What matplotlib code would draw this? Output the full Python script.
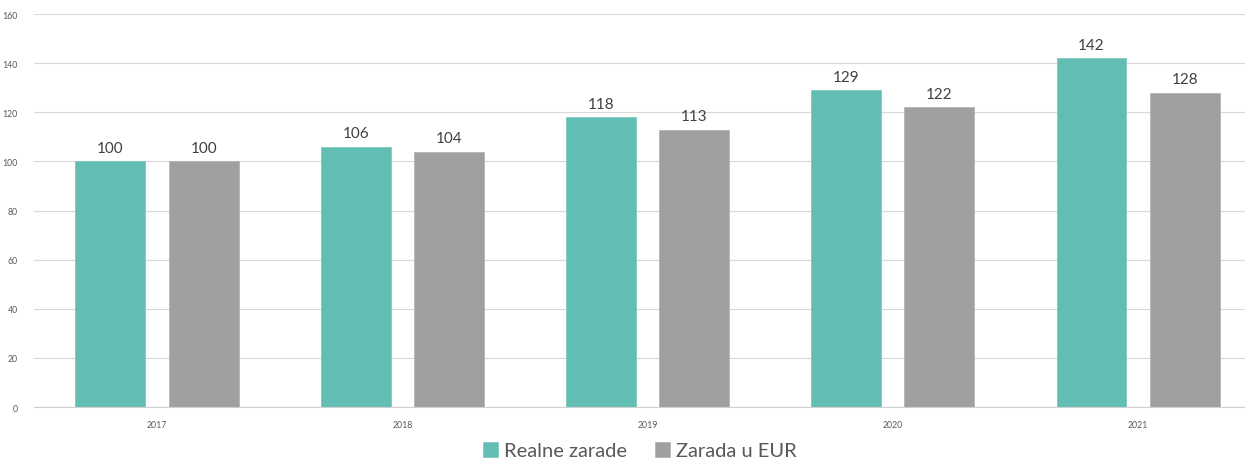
import numpy as np
import matplotlib.pyplot as plt

### Data:
years = ['2017', '2018', '2019', '2020', '2021']
realne_zarade = [100, 106, 118, 129, 142]
zarada_eur = [100, 104, 113, 122, 128]
y_ticks = [0, 20, 40, 60, 80, 100, 120, 140, 160]

teal = '#62bdb3'
grey = '#a0a0a0'
text_col = '#595959'

plt.rcParams['font.family'] = ['Lato', 'DejaVu Sans']

fig = plt.figure(figsize=(12.45, 4.6), dpi=100)
ax = fig.add_axes([0.0276, 0.113, 0.985, 0.854])

x = np.arange(len(years))
w = 0.285
off = 0.19

b1 = ax.bar(x - off, realne_zarade, w, color=teal, edgecolor='#7fcbc2', linewidth=0.6,
            label='Realne zarade', zorder=3)
b2 = ax.bar(x + off, zarada_eur, w, color=grey, edgecolor='#b5b5b5', linewidth=0.6,
            label='Zarada u EUR', zorder=3)

# value labels over the bars
for bars in (b1, b2):
    for rect in bars:
        h = rect.get_height()
        ax.text(rect.get_x() + rect.get_width() / 2, h + 2.6, f'{h:.0f}',
                ha='center', va='bottom', fontsize=11, color='#404040')

ax.set_xlim(-0.5, len(years) - 0.5)
ax.set_ylim(0, 160)
ax.set_yticks(y_ticks)
ax.set_xticks(x)
ax.set_xticklabels(years)
ax.tick_params(axis='both', length=0, labelsize=6.3, colors=text_col)
ax.tick_params(axis='x', pad=9)
ax.tick_params(axis='y', pad=12)

ax.grid(axis='y', color='#d9d9d9', linewidth=0.8, zorder=0)
for side in ['top', 'right', 'left']:
    ax.spines[side].set_visible(False)
ax.spines['bottom'].set_color('#d0d0d0')
ax.spines['bottom'].set_zorder(4)

fig.legend(handles=[b1, b2], loc='center', bbox_to_anchor=(0.514, 0.018), ncol=2,
           frameon=False, fontsize=14.5, handlelength=0.75, handleheight=0.75,
           handletextpad=0.3, columnspacing=1.4, labelcolor=text_col)

fig.savefig('out.png', dpi=100)
